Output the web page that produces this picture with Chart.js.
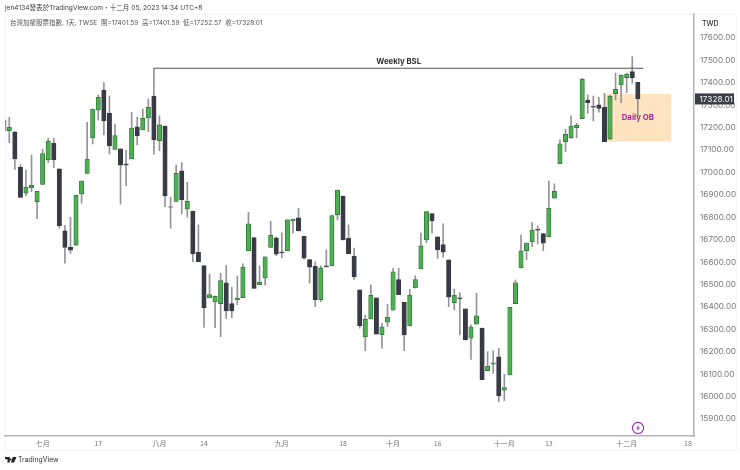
<!DOCTYPE html>
<html>
<head>
<meta charset="utf-8">
<style>
    body { margin: 0; background: #fff; width: 740px; height: 470px; overflow: hidden; position: relative; font-family: Inter, "Noto Sans CJK TC", sans-serif; }
    canvas { position: absolute; left: 0; top: 0; }
    .panel { position: absolute; left: 5px; top: 14px; width: 732px; height: 437px; box-sizing: border-box; border: 1px solid #f5f5f5; }
    .txt { position: absolute; white-space: nowrap; line-height: 1; }
    svg { position: absolute; }
</style>
<script src="https://cdn.jsdelivr.net/npm/chart.js@4"></script>
</head>
<body>
<div class="panel"></div>
<canvas id="chart" width="740" height="470"></canvas>
<div class="txt" style="left:5px;top:5px;font-size:6.6px;color:#3c3c3c">jen4134發表於TradingView.com・十二月 05, 2023 14:34 UTC+8</div>
<div class="txt" style="left:10px;top:20px;font-size:6.5px;color:#555">台灣加權股票指數, 1天, TWSE&nbsp; 開=17401.59&nbsp; 高=17401.59&nbsp; 低=17252.57&nbsp; 收=17328.01</div>
<div class="txt" style="left:702px;top:20px;font-size:7px;font-weight:500;color:#333">TWD</div>
<svg style="left:630px;top:420px" width="16" height="16" viewBox="0 0 16 16">
    <circle cx="8" cy="8" r="5.6" fill="none" stroke="#9c27b0" stroke-width="1.1"/>
    <path d="M8.9 4.6 L6.2 8.4 H7.9 L7.1 11.4 L9.8 7.4 H8.1 Z" fill="#9c27b0"/>
</svg>
<svg style="left:5px;top:457px" width="12" height="6" viewBox="0 0 14 7">
    <path d="M0 0 H5.6 V6.4 H2.9 V2.6 H0 Z M6.6 1.8 A1 1 0 1 0 6.61 1.8 Z M9 0 H13.4 L10.7 6.4 H6.9 Z" fill="#222"/>
</svg>
<div class="txt" style="left:18px;top:456.5px;font-size:6.9px;color:#333">TradingView</div>

<script>
const opens = [17186,17181,17023,16907,16932,16870,16947,17057,17130,17016,16739,16666,16676,16904,16996,17154,17279,17368,17264,17103,17105,17038,17061,17204,17190,17243,17341,17142,17207,16847,
    16871,17007,16837,16828,16644,16584,16440,16422,16415,16508,16415,16431,16441,16651,16709,16499,16529,16666,16708,16645,16651,16785,16797,16715,16611,16581,16432,16583,16583,16812,
    16895,16706,16627,16476,16267,16346,16441,16276,16332,16385,16522,16421,16315,16485,16569,16699,16816,16713,16678,16610,16419,16441,16392,16260,16323,16306,16116,16144,16177,16028,
    16096,16415,16574,16651,16691,16746,16727,16712,16885,17039,17137,17155,17200,17240,17323,17295,17302,17291,17149,17352,17390,17423,17450,17401.59];
const highs = [17246,17181,17035,17011,17077,16916,17103,17152,17152,17016,16764,16800,16898,16962,17224,17283,17346,17401,17341,17216,17105,17100,17268,17246,17283,17328,17465,17252,17207,16889,
    17033,17044,16956,16828,16766,16584,16546,16448,16550,16584,16488,16538,16592,16822,16709,16583,16624,16782,16712,16731,16789,16792,16840,16715,16611,16601,16583,16654,16807,16921,
    16895,16766,16662,16476,16363,16498,16441,16327,16412,16572,16572,16421,16479,16539,16729,16825,16816,16713,16771,16610,16480,16464,16392,16320,16461,16306,16200,16205,16216,16100,
    16398,16520,16721,16685,16776,16761,16727,16962,16949,17145,17193,17253,17219,17420,17346,17341,17335,17353,17346,17443,17434,17443,17517,17401.59];
const lows = [17133,17014,16889,16895,16914,16794,16947,17044,17021,16751,16595,16639,16676,16862,16996,17127,17234,17167,17082,17103,16859,16941,17061,17123,17190,17182,17082,17097,16847,16751,
    16871,16815,16800,16602,16602,16309,16440,16307,16267,16348,16351,16410,16441,16651,16483,16499,16497,16666,16628,16620,16651,16729,16739,16613,16506,16401,16423,16578,16583,16788,
    16699,16638,16523,16305,16205,16346,16278,16216,16312,16385,16455,16205,16315,16485,16569,16687,16729,16617,16622,16401,16386,16275,16253,16166,16323,16075,16116,16104,15977,15982,
    16096,16415,16574,16610,16669,16681,16651,16712,16885,17039,17093,17152,17155,17240,17264,17230,17269,17137,17149,17323,17311,17356,17398,17252.57];
const closes = [17202,17060,16889,16934,16943,16916,17084,17140,17057,16763,16666,16653,16898,16962,17060,17283,17335,17230,17118,17164,17032,17033,17198,17163,17242,17291,17145,17212,16895,16845,
    16996,16877,16871,16636,16602,16395,16455,16448,16517,16382,16382,16439,16578,16771,16483,16510,16624,16720,16635,16641,16789,16792,16739,16618,16577,16432,16574,16578,16807,16921,
    16699,16638,16535,16316,16345,16452,16278,16311,16355,16557,16455,16275,16453,16522,16672,16825,16784,16654,16644,16443,16452,16437,16253,16311,16360,16075,16135,16151,16003,16040,
    16398,16508,16650,16685,16742,16742,16684,16840,16916,17128,17170,17207,17211,17416,17311,17291,17286,17137,17340,17371,17434,17439,17423,17328.01];

// the candle cut off by the left edge, only its wick is visible
const clippedWickX = -0.67;
const clippedWick = [17185, 17234];

const priceTicks = [15900,16000,16100,16200,16300,16400,16500,16600,16700,16800,16900,17000,17100,17200,17300,17400,17500,17600];
const dateTickIndex = [6, 16, 27, 35, 49, 60, 69, 77, 89, 97, 111, 122];
const dateTickLabels = ['七月', '17', '八月', '14', '九月', '18', '十月', '16', '十一月', '13', '十二月', '18'];

const bslPrice = 17465;
const bslFrom = 26;
const bslTo = 114;
const obTop = 17350;
const obBottom = 17138;
const obFrom = 107;
const obTo = 119;
const lastPrice = 17328.01;

const up = '#4caf50';
const upBorder = '#33713a';
const down = '#383b46';

const candleIndex = closes.map((c, i) => i);

const annotations = {
    id: 'annotations',
    beforeDatasetsDraw(chart) {
        const { ctx, scales: { x, y } } = chart;
        ctx.save();
        ctx.fillStyle = '#fde3bf';
        ctx.fillRect(x.getPixelForValue(obFrom), y.getPixelForValue(obTop),
            x.getPixelForValue(obTo) - x.getPixelForValue(obFrom),
            y.getPixelForValue(obBottom) - y.getPixelForValue(obTop));
        ctx.restore();
    },
    afterDatasetsDraw(chart) {
        const { ctx, scales: { x, y } } = chart;
        ctx.save();
        ctx.textAlign = 'center';
        ctx.textBaseline = 'middle';
        ctx.font = 'bold 7.8px Inter, sans-serif';
        ctx.fillStyle = '#333';
        ctx.fillText('Weekly BSL', x.getPixelForValue(70), y.getPixelForValue(17493));
        ctx.fillStyle = '#a3249f';
        ctx.fillText('Daily OB', x.getPixelForValue(113), y.getPixelForValue(17243));
        ctx.restore();
    },
    afterDraw(chart) {
        const { ctx, scales: { y } } = chart;
        const py = y.getPixelForValue(lastPrice);
        ctx.save();
        ctx.fillStyle = '#3a3d48';
        ctx.fillRect(695, py - 5.5, 39, 11);
        ctx.fillStyle = '#fff';
        ctx.textAlign = 'left';
        ctx.textBaseline = 'middle';
        ctx.font = '8.2px Inter, sans-serif';
        ctx.fillText(lastPrice.toFixed(2), 699.5, py + 0.5);
        ctx.restore();
    }
};

const cfg = {
    type: 'bar',
    data: {
        datasets: [
        {
            type: 'line',
            data: [{ x: bslFrom, y: bslPrice }, { x: bslTo, y: bslPrice }],
            borderColor: '#555',
            borderWidth: 1,
            pointRadius: 0,
        },
        {
            data: candleIndex.map(i => ({ x: i, y: [opens[i], closes[i]] })),
            grouped: false,
            barThickness: 4.4,
            backgroundColor: candleIndex.map(i => closes[i] >= opens[i] ? up : down),
            borderColor: candleIndex.map(i => closes[i] >= opens[i] ? upBorder : down),
            borderWidth: 0.8,
            borderSkipped: false,
        },
        {
            data: [{ x: clippedWickX, y: clippedWick }].concat(candleIndex.map(i => ({ x: i, y: [lows[i], highs[i]] }))),
            grouped: false,
            barThickness: 1,
            backgroundColor: '#939498',
            borderWidth: 0,
        },
        ],
    },
    options: {
        responsive: false,
        animation: false,
        layout: { padding: { left: 5, top: 14, right: 2, bottom: 14 } },
        plugins: {
            legend: { display: false },
            tooltip: { enabled: false },
        },
        scales: {
            x: {
                type: 'linear',
                offset: false,
                min: -0.77,
                max: 123.1,
                grid: { display: false, drawTicks: false },
                border: { color: '#b4b4b4', width: 1.5 },
                afterBuildTicks: s => { s.ticks = dateTickIndex.map(v => ({ value: v })); },
                afterFit: s => { s.height = 20; s.paddingLeft = 0; s.paddingRight = 0; },
                ticks: {
                    autoSkip: false,
                    maxRotation: 0,
                    padding: 3,
                    color: '#777',
                    font: { size: 7, family: '"Noto Sans CJK TC", sans-serif' },
                    callback: v => dateTickLabels[dateTickIndex.indexOf(v)],
                },
            },
            y: {
                position: 'right',
                min: 15824,
                max: 17707,
                grid: { display: false, drawTicks: false },
                border: { color: '#b4b4b4', width: 1.5 },
                afterBuildTicks: s => { s.ticks = priceTicks.map(v => ({ value: v })); },
                afterFit: s => { s.width = 44; s.paddingTop = 0; s.paddingBottom = 0; },
                ticks: {
                    padding: 6,
                    color: '#777',
                    font: { size: 8.2, family: 'Inter, sans-serif' },
                    callback: v => v.toFixed(2),
                },
            },
        },
    },
    plugins: [annotations],
};

new Chart(document.getElementById('chart'), cfg);
</script>
</body>
</html>
